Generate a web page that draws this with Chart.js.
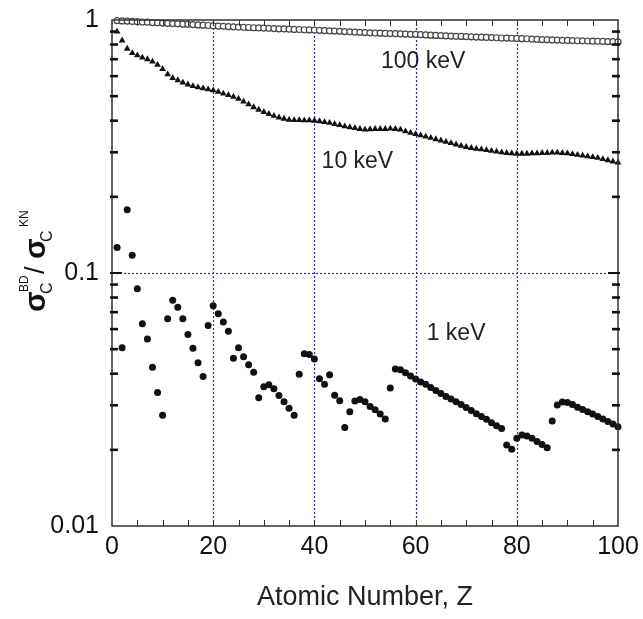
<!DOCTYPE html>
<html>
<head>
<meta charset="utf-8">
<script src="https://cdn.jsdelivr.net/npm/chart.js@4.4.0/dist/chart.umd.min.js"></script>
<style>
html, body { margin: 0; padding: 0; background: #fff; }
</style>
</head>
<body>
<canvas id="myChart" width="643" height="619"></canvas>
<script>
// atomic numbers
const Z = [1,2,3,4,5,6,7,8,9,10,11,12,13,14,15,16,17,18,19,20,
  21,22,23,24,25,26,27,28,29,30,31,32,33,34,35,36,37,38,39,40,
  41,42,43,44,45,46,47,48,49,50,51,52,53,54,55,56,57,58,59,60,
  61,62,63,64,65,66,67,68,69,70,71,72,73,74,75,76,77,78,79,80,
  81,82,83,84,85,86,87,88,89,90,91,92,93,94,95,96,97,98,99,100];

// 100 keV
const ratio100 = [0.995,0.992,0.990,0.987,0.985,0.982,0.980,0.977,0.975,0.972,
  0.970,0.968,0.966,0.963,0.961,0.959,0.956,0.954,0.951,0.948,
  0.946,0.944,0.942,0.940,0.938,0.936,0.934,0.932,0.930,0.929,
  0.927,0.925,0.923,0.922,0.920,0.918,0.917,0.915,0.914,0.912,
  0.910,0.908,0.906,0.904,0.902,0.900,0.898,0.896,0.894,0.892,
  0.890,0.888,0.887,0.885,0.884,0.883,0.882,0.880,0.878,0.877,
  0.875,0.873,0.871,0.869,0.868,0.866,0.864,0.862,0.861,0.859,
  0.858,0.856,0.855,0.853,0.852,0.851,0.849,0.848,0.847,0.846,
  0.844,0.843,0.841,0.839,0.837,0.836,0.834,0.833,0.831,0.830,
  0.829,0.828,0.827,0.826,0.825,0.824,0.823,0.822,0.821,0.819];

// 10 keV
const ratio10 = [0.90,0.83,0.77,0.74,0.725,0.71,0.70,0.685,0.665,0.64,
  0.61,0.59,0.578,0.566,0.556,0.548,0.542,0.537,0.532,0.527,
  0.52,0.512,0.505,0.497,0.488,0.476,0.464,0.452,0.442,0.433,
  0.425,0.418,0.412,0.407,0.403,0.402,0.402,0.401,0.401,0.400,
  0.398,0.395,0.392,0.388,0.384,0.380,0.377,0.374,0.371,0.369,
  0.370,0.371,0.371,0.371,0.372,0.371,0.369,0.363,0.358,0.354,
  0.350,0.346,0.342,0.338,0.334,0.330,0.326,0.322,0.318,0.315,
  0.312,0.310,0.308,0.306,0.304,0.302,0.300,0.298,0.297,0.296,
  0.296,0.296,0.297,0.297,0.298,0.298,0.299,0.299,0.298,0.297,
  0.295,0.293,0.291,0.289,0.287,0.285,0.282,0.279,0.276,0.273];

// 1 keV
const ratio1 = [0.126,0.0506,0.178,0.1175,0.0867,0.063,0.0549,0.0424,0.0337,0.0274,
  0.0659,0.078,0.0733,0.0659,0.0571,0.0504,0.0442,0.039,0.062,0.0742,
  0.069,0.064,0.0589,0.046,0.0506,0.0467,0.0434,0.0405,0.0321,0.0355,
  0.0362,0.0349,0.0328,0.031,0.0292,0.0274,0.0398,0.048,0.0476,0.0457,
  0.0382,0.0363,0.0396,0.0329,0.0313,0.0245,0.0283,0.0312,0.0316,0.031,
  0.0297,0.0288,0.0277,0.0265,0.0351,0.0417,0.0415,0.0403,0.0392,0.0381,
  0.0371,0.0363,0.0353,0.0343,0.0334,0.0325,0.0318,0.031,0.0302,0.0294,
  0.0286,0.0278,0.0271,0.0264,0.0256,0.0249,0.0243,0.0209,0.0201,0.0222,
  0.0229,0.0227,0.0222,0.0216,0.021,0.0204,0.026,0.0301,0.0309,0.0308,
  0.0302,0.0295,0.0289,0.0283,0.0277,0.0271,0.0265,0.0259,0.0253,0.0247];

const xTicks = [0, 20, 40, 60, 80, 100];
const yTicks = [0.01, 0.1, 1];
const gridX = [20, 40, 60, 80];
const gridY = [0.1];

// curve labels, placed in data units
const curveNames = ['100 keV', '10 keV', '1 keV'];
const curveNameZ = [61.5, 48.5, 68];
const curveNameY = [0.683, 0.275, 0.0574];

const FONT = '"Liberation Sans", Arial, sans-serif';

function pts(vals) {
  return Z.map((z, i) => ({ x: z, y: vals[i] }));
}

const framePlugin = {
  id: 'frame',
  beforeDatasetsDraw(chart) {
    const ctx = chart.ctx;
    const a = chart.chartArea;
    const xs = chart.scales.x, ys = chart.scales.y;
    ctx.save();
    ctx.strokeStyle = '#2222ee';
    ctx.lineWidth = 1.2;
    ctx.setLineDash([2, 2]);
    gridX.forEach(v => {
      const px = Math.round(xs.getPixelForValue(v)) + 0.5;
      ctx.beginPath(); ctx.moveTo(px, a.top); ctx.lineTo(px, a.bottom); ctx.stroke();
    });
    gridY.forEach(v => {
      const py = Math.round(ys.getPixelForValue(v)) + 0.5;
      ctx.beginPath(); ctx.moveTo(a.left, py); ctx.lineTo(a.right, py); ctx.stroke();
    });
    ctx.restore();
  },
  afterDatasetsDraw(chart) {
    const ctx = chart.ctx;
    const a = chart.chartArea;
    const xs = chart.scales.x, ys = chart.scales.y;
    ctx.save();
    ctx.strokeStyle = '#333';
    ctx.lineWidth = 1.5;
    ctx.strokeRect(a.left, a.top, a.right - a.left, a.bottom - a.top);

    // x ticks every 5, inward on top and bottom
    ctx.lineWidth = 1;
    for (let v = 5; v < 100; v += 5) {
      const px = Math.round(xs.getPixelForValue(v)) + 0.5;
      ctx.beginPath();
      ctx.moveTo(px, a.bottom); ctx.lineTo(px, a.bottom - 6);
      ctx.moveTo(px, a.top); ctx.lineTo(px, a.top + 6);
      ctx.stroke();
    }
    // y minor ticks (log), thick and short
    ctx.fillStyle = '#111';
    [0.01, 0.1].forEach(d => {
      for (let m = 2; m <= 9; m++) {
        const py = ys.getPixelForValue(m * d);
        ctx.fillRect(a.left - 2, py - 1.3, 8, 2.6);
        ctx.fillRect(a.right - 6, py - 1.3, 8, 2.6);
      }
    });
    const p1 = ys.getPixelForValue(0.1);
    ctx.fillRect(a.left - 2, p1 - 1, 12, 2);
    ctx.fillRect(a.right - 10, p1 - 1, 12, 2);

    // curve names
    ctx.fillStyle = '#222';
    ctx.font = '23px ' + FONT;
    ctx.textAlign = 'center';
    ctx.textBaseline = 'middle';
    curveNames.forEach((t, i) => {
      ctx.fillText(t, xs.getPixelForValue(curveNameZ[i]), ys.getPixelForValue(curveNameY[i]));
    });

    // x axis title
    ctx.font = '27px ' + FONT;
    ctx.fillText('Atomic Number, Z', (a.left + a.right) / 2, 598);

    // y axis title: sigma_C^BD / sigma_C^KN
    ctx.translate(45, 312);
    ctx.rotate(-Math.PI / 2);
    ctx.textAlign = 'left';
    ctx.textBaseline = 'alphabetic';
    ctx.fillStyle = '#111';
    ctx.font = 'bold 30px ' + FONT;
    ctx.fillText('\u03c3', 0, 0);
    ctx.font = '16px ' + FONT;
    ctx.fillText('C', 18, 7);
    ctx.font = '12px ' + FONT;
    ctx.fillText('BD', 20, -17);
    ctx.font = '27px ' + FONT;
    ctx.fillText('/', 38, -1);
    ctx.font = 'bold 30px ' + FONT;
    ctx.fillText('\u03c3', 53, 0);
    ctx.font = '16px ' + FONT;
    ctx.fillText('C', 70, 7);
    ctx.font = '12px ' + FONT;
    ctx.fillText('KN', 85, -17);
    ctx.restore();
  }
};

new Chart(document.getElementById('myChart'), {
  type: 'scatter',
  data: {
    datasets: [
      {
        label: '100 keV',
        data: pts(ratio100),
        pointStyle: 'circle',
        pointRadius: 3,
        borderWidth: 1.2,
        borderColor: '#444',
        backgroundColor: '#fff',
        clip: false
      },
      {
        label: '10 keV',
        data: pts(ratio10),
        pointStyle: 'triangle',
        pointRadius: 3.9,
        borderWidth: 0,
        backgroundColor: '#111',
        borderColor: '#111',
        clip: false
      },
      {
        label: '1 keV',
        data: pts(ratio1),
        pointStyle: 'circle',
        pointRadius: 3.5,
        borderWidth: 0,
        backgroundColor: '#111',
        borderColor: '#111',
        clip: false
      }
    ]
  },
  options: {
    responsive: false,
    animation: false,
    devicePixelRatio: 1,
    layout: { padding: { top: 20, right: 25, left: 0, bottom: 0 } },
    plugins: {
      legend: { display: false },
      tooltip: { enabled: false }
    },
    scales: {
      x: {
        type: 'linear',
        min: 0,
        max: 100,
        grid: { display: false, tickLength: 0 },
        border: { display: false },
        afterFit(s) {
          s.height = 93;
          s.paddingLeft = 0;
          s.paddingRight = 0;
        },
        afterBuildTicks(s) { s.ticks = xTicks.map(v => ({ value: v })); },
        ticks: {
          color: '#111',
          padding: 6,
          font: { family: FONT, size: 25 }
        }
      },
      y: {
        type: 'logarithmic',
        min: 0.01,
        max: 1,
        grid: { display: false, tickLength: 0 },
        border: { display: false },
        afterFit(s) {
          s.width = 112;
          s.paddingTop = 0;
          s.paddingBottom = 0;
        },
        afterBuildTicks(s) { s.ticks = yTicks.map(v => ({ value: v })); },
        ticks: {
          color: '#111',
          padding: 13,
          autoSkip: false,
          font: { family: FONT, size: 25 },
          callback: v => String(v)
        }
      }
    }
  },
  plugins: [framePlugin]
});
</script>
</body>
</html>
